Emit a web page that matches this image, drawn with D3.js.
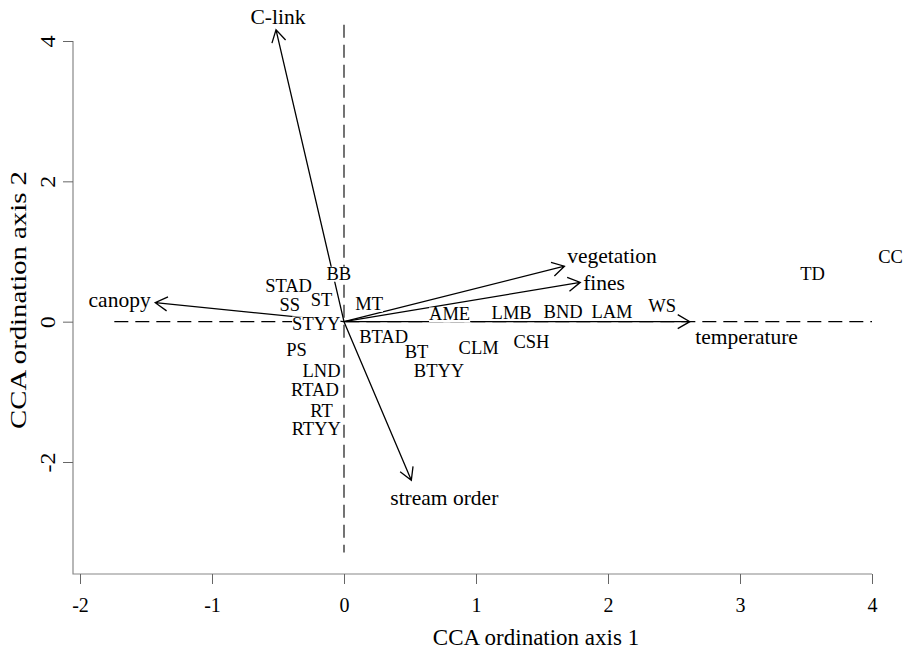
<!DOCTYPE html>
<html>
<head>
<meta charset="utf-8">
<script src="https://cdn.jsdelivr.net/npm/d3@7"></script>
<style>
  body { margin: 0; background: #fff; }
  svg { display: block; font-family: "Liberation Serif", "Times New Roman", serif; }
</style>
</head>
<body>
<svg id="chart"></svg>
<script>
// species scores (CCA axis 1, axis 2)
const speciesNames = ["BB", "STAD", "ST", "SS", "MT", "STYY", "PS", "LND", "RTAD", "RT", "RTYY",
  "BTAD", "BT", "BTYY", "AME", "CLM", "LMB", "CSH", "BND", "LAM", "WS", "TD", "CC"];
const speciesX = [-0.04, -0.42, -0.17, -0.41, 0.19, -0.21, -0.36, -0.17, -0.22, -0.17, -0.21,
  0.30, 0.55, 0.72, 0.80, 1.02, 1.27, 1.42, 1.66, 2.03, 2.41, 3.55, 4.14];
const speciesY = [0.69, 0.51, 0.32, 0.24, 0.26, -0.02, -0.40, -0.69, -0.97, -1.26, -1.52,
  -0.21, -0.43, -0.69, 0.11, -0.37, 0.13, -0.28, 0.14, 0.14, 0.23, 0.68, 0.93];

// environmental biplot arrows
const envNames = ["C-link", "canopy", "vegetation", "fines", "temperature", "stream order"];
const envX = [-0.515, -1.43, 1.67, 1.79, 2.62, 0.51];
const envY = [4.16, 0.27, 0.79, 0.56, 0.0, -2.26];
const envLabelX = [-0.50, -1.70, 2.03, 1.97, 3.05, 0.76];
const envLabelY = [4.35, 0.31, 0.95, 0.56, -0.21, -2.51];

const xTicks = [-2, -1, 0, 1, 2, 3, 4];
const yTicks = [-2, 0, 2, 4];
const hRange = [-1.74, 4.0];   // extent of dashed zero line
const vRange = [-3.29, 4.23];

const width = 903, height = 650;
const svg = d3.select("#chart").attr("width", width).attr("height", height);

const x = d3.scaleLinear().domain([-2, 4]).range([80, 872]);
const y = d3.scaleLinear().domain([-2, 4]).range([462, 41]);
const frameLeft = 73, frameBottom = 574;

// L-shaped frame
svg.append("path")
  .attr("d", `M${frameLeft},${y(4)}V${frameBottom}H${x(4)}`)
  .attr("fill", "none").attr("stroke", "#888").attr("stroke-width", 1.2);

const xAxis = svg.append("g")
  .attr("transform", `translate(0,${frameBottom})`)
  .call(d3.axisBottom(x).tickValues(xTicks).tickSize(10).tickSizeOuter(0).tickPadding(14).tickFormat(d => String(d)));
xAxis.select(".domain").remove();
xAxis.selectAll(".tick line").attr("stroke", "#666");
xAxis.selectAll(".tick text").attr("font-size", 20).attr("fill", "#000")
  .attr("font-family", "Liberation Serif");

const yAxis = svg.append("g")
  .attr("transform", `translate(${frameLeft},0)`)
  .call(d3.axisLeft(y).tickValues(yTicks).tickSize(10).tickSizeOuter(0).tickFormat(d => String(d)));
yAxis.select(".domain").remove();
yAxis.selectAll(".tick line").attr("stroke", "#666");
yAxis.selectAll(".tick text")
  .attr("font-size", 20).attr("fill", "#000").attr("font-family", "Liberation Serif")
  .attr("text-anchor", "middle").attr("dy", null).attr("x", null)
  .attr("transform", "translate(-25,0) rotate(-90) scale(1.2,1)")
  .attr("dominant-baseline", "central");

// axis titles
svg.append("text")
  .attr("x", 536).attr("y", 645)
  .attr("text-anchor", "middle").attr("font-size", 23)
  .text("CCA ordination axis 1");
svg.append("text")
  .attr("transform", `translate(26,300) rotate(-90) scale(1.25,1)`)
  .attr("text-anchor", "middle").attr("font-size", 23)
  .text("CCA ordination axis 2");

// dashed zero lines
svg.append("line")
  .attr("x1", x(hRange[0])).attr("x2", x(hRange[1]))
  .attr("y1", y(0)).attr("y2", y(0))
  .attr("stroke", "#000").attr("stroke-width", 1.1).attr("stroke-dasharray", "14,7");
svg.append("line")
  .attr("x1", x(0)).attr("x2", x(0))
  .attr("y1", y(vRange[1])).attr("y2", y(vRange[0]))
  .attr("stroke", "#000").attr("stroke-width", 1.1).attr("stroke-dasharray", "13,7");

// arrows with open heads
const headLen = 14, headAng = Math.PI / 6;
const arrows = svg.append("g").attr("fill", "none").attr("stroke", "#000").attr("stroke-width", 1.3);
envNames.forEach((name, i) => {
  const x0 = x(0), y0 = y(0), x1 = x(envX[i]), y1 = y(envY[i]);
  const a = Math.atan2(y1 - y0, x1 - x0);
  const p1 = [x1 - headLen * Math.cos(a - headAng), y1 - headLen * Math.sin(a - headAng)];
  const p2 = [x1 - headLen * Math.cos(a + headAng), y1 - headLen * Math.sin(a + headAng)];
  arrows.append("path")
    .attr("d", `M${x0},${y0}L${x1},${y1}M${p1[0]},${p1[1]}L${x1},${y1}L${p2[0]},${p2[1]}`);
});

// species labels on white boxes
const sp = svg.append("g");
speciesNames.forEach((name, i) => {
  const g = sp.append("g");
  const t = g.append("text")
    .attr("x", x(speciesX[i])).attr("y", y(speciesY[i]))
    .attr("dy", "0.35em")
    .attr("text-anchor", "middle").attr("font-size", 18.5)
    .text(name);
  const b = t.node().getBBox();
  g.insert("rect", "text")
    .attr("x", b.x).attr("y", b.y + 3).attr("width", b.width).attr("height", b.height - 5)
    .attr("fill", "#fff");
});

// environmental labels
envNames.forEach((name, i) => {
  svg.append("text")
    .attr("x", x(envLabelX[i])).attr("y", y(envLabelY[i]))
    .attr("dy", "0.35em")
    .attr("text-anchor", "middle").attr("font-size", 21.5)
    .text(name);
});
</script>
</body>
</html>
